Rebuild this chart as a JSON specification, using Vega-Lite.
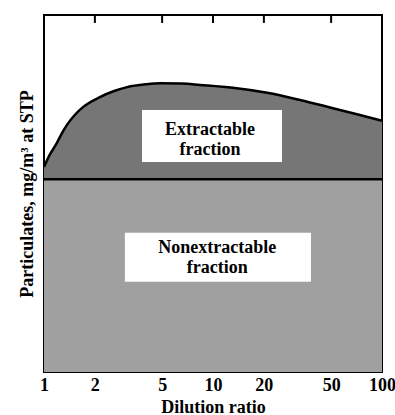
{
  "$schema": "https://vega.github.io/schema/vega-lite/v6.json",
  "width": 338,
  "height": 357,
  "autosize": {"type": "none"},
  "padding": {"left": 44, "top": 15, "right": 13, "bottom": 43},
  "background": "white",
  "config": {
    "view": {"stroke": "black", "strokeWidth": 2},
    "font": "Liberation Serif",
    "axis": {
      "labelFont": "Liberation Serif",
      "labelFontSize": 18,
      "labelFontWeight": "bold",
      "labelColor": "black",
      "titleFont": "Liberation Serif",
      "titleFontSize": 18,
      "titleFontWeight": "bold",
      "titleColor": "black",
      "grid": false,
      "domain": false
    }
  },
  "datasets": {
    "curve": [
      {"dilution": 1.0, "total": 57.4, "nonextractable": 54},
      {"dilution": 1.08, "total": 60.8, "nonextractable": 54},
      {"dilution": 1.19, "total": 64.1, "nonextractable": 54},
      {"dilution": 1.28, "total": 67.0, "nonextractable": 54},
      {"dilution": 1.37, "total": 69.3, "nonextractable": 54},
      {"dilution": 1.52, "total": 72.0, "nonextractable": 54},
      {"dilution": 1.7, "total": 74.2, "nonextractable": 54},
      {"dilution": 2.14, "total": 77.0, "nonextractable": 54},
      {"dilution": 2.6, "total": 78.7, "nonextractable": 54},
      {"dilution": 3.1, "total": 79.8, "nonextractable": 54},
      {"dilution": 4.0, "total": 80.6, "nonextractable": 54},
      {"dilution": 4.86, "total": 80.9, "nonextractable": 54},
      {"dilution": 6.5, "total": 80.8, "nonextractable": 54},
      {"dilution": 8.38, "total": 80.4, "nonextractable": 54},
      {"dilution": 13.1, "total": 79.6, "nonextractable": 54},
      {"dilution": 20.9, "total": 78.2, "nonextractable": 54},
      {"dilution": 32.7, "total": 76.2, "nonextractable": 54},
      {"dilution": 51.3, "total": 73.9, "nonextractable": 54},
      {"dilution": 74, "total": 72.0, "nonextractable": 54},
      {"dilution": 100, "total": 70.4, "nonextractable": 54}
    ],
    "labels": [
      {"label": "Extractable\nfraction", "x": 9.6, "y": 67.8, "x1": 3.8, "x2": 25.6, "y1": 73.4, "y2": 58.8},
      {"label": "Nonextractable\nfraction", "x": 10.6, "y": 34.8, "x1": 3.01, "x2": 38.0, "y1": 39.0, "y2": 25.3}
    ],
    "topmarks": [
      {"dilution": 2, "level": 98.9},
      {"dilution": 5, "level": 98.9},
      {"dilution": 10, "level": 98.9},
      {"dilution": 20, "level": 98.9},
      {"dilution": 50, "level": 98.9}
    ]
  },
  "layer": [
    {
      "data": {"name": "curve"},
      "mark": {"type": "area", "color": "#a0a0a0", "opacity": 1},
      "encoding": {
        "x": {
          "field": "dilution", "type": "quantitative",
          "scale": {"type": "log", "domain": [1, 100], "nice": false},
          "axis": {
            "orient": "bottom",
            "title": "Dilution ratio",
            "values": [1, 2, 5, 10, 20, 50, 100],
            "format": "d",
            "ticks": false,
            "labelPadding": 4,
            "labelFlush": false,
            "labelOverlap": false,
            "titlePadding": 4
          }
        },
        "y": {
          "field": "nonextractable", "type": "quantitative",
          "scale": {"domain": [0, 100]},
          "axis": {
            "title": "Particulates, mg/m³ at STP",
            "labels": false,
            "ticks": false,
            "titlePadding": 8
          }
        }
      }
    },
    {
      "data": {"name": "curve"},
      "mark": {"type": "area", "color": "#767676", "opacity": 1, "interpolate": "monotone"},
      "encoding": {
        "x": {"field": "dilution", "type": "quantitative"},
        "y": {"field": "total", "type": "quantitative"},
        "y2": {"field": "nonextractable"}
      }
    },
    {
      "data": {"name": "curve"},
      "mark": {"type": "line", "color": "black", "strokeWidth": 2.5, "interpolate": "monotone"},
      "encoding": {
        "x": {"field": "dilution", "type": "quantitative"},
        "y": {"field": "total", "type": "quantitative"}
      }
    },
    {
      "data": {"name": "curve"},
      "mark": {"type": "line", "color": "black", "strokeWidth": 2.5},
      "encoding": {
        "x": {"field": "dilution", "type": "quantitative"},
        "y": {"field": "nonextractable", "type": "quantitative"}
      }
    },
    {
      "data": {"name": "topmarks"},
      "mark": {"type": "tick", "color": "black", "orient": "vertical", "size": 8, "thickness": 2, "opacity": 1},
      "encoding": {
        "x": {"field": "dilution", "type": "quantitative"},
        "y": {"field": "level", "type": "quantitative"}
      }
    },
    {
      "data": {"name": "labels"},
      "mark": {"type": "rect", "color": "white", "opacity": 1},
      "encoding": {
        "x": {"field": "x1", "type": "quantitative"},
        "x2": {"field": "x2"},
        "y": {"field": "y1", "type": "quantitative"},
        "y2": {"field": "y2"}
      }
    },
    {
      "data": {"name": "labels"},
      "mark": {"type": "text", "font": "Liberation Serif", "fontSize": 18, "fontWeight": "bold", "color": "black", "lineBreak": "\n", "lineHeight": 20, "baseline": "middle", "align": "center"},
      "encoding": {
        "x": {"field": "x", "type": "quantitative"},
        "y": {"field": "y", "type": "quantitative"},
        "text": {"field": "label"}
      }
    }
  ]
}
